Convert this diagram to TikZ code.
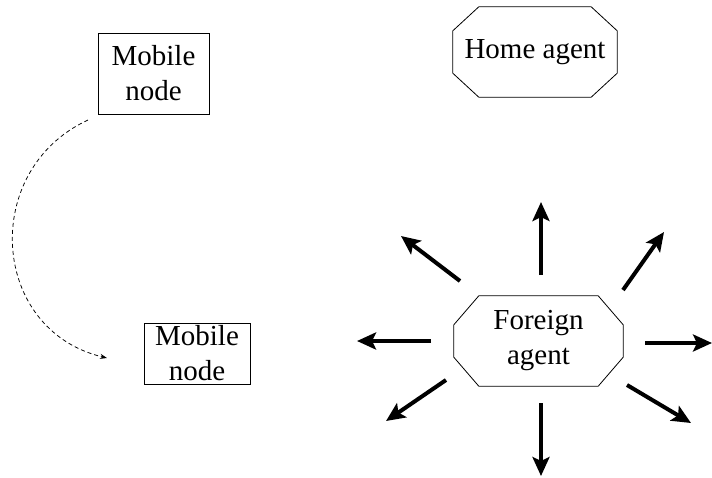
\documentclass[tikz,border=0pt]{standalone}
\usepackage{fontspec}
\setmainfont{Liberation Serif}
\usetikzlibrary{arrows.meta}
\begin{document}
\begin{tikzpicture}[x=1pt,y=-1pt,
  lbl/.style={font=\fontsize{29}{35}\selectfont, align=center, inner sep=0pt},
  boxnode/.style={lbl, draw, line width=0.8pt, rectangle},
  octline/.style={line width=0.8pt},
  bigarrow/.style={line width=4pt, -{Stealth[length=19pt,width=17pt,inset=4pt]}},
  move/.style={line width=0.75pt, dash pattern=on 4pt off 3pt, -{Stealth[length=7pt,width=5pt]}}]
\useasboundingbox (0,0) rectangle (712,477);
\fill[white] (0,0) rectangle (712,477);
\node[boxnode, minimum width=111pt, minimum height=81pt] (mn1) at (153.5,73.5) {Mobile\\node};
\node[boxnode, minimum width=106pt, minimum height=61pt] (mn2) at (197,353.5) {Mobile\\node};
\node[lbl, minimum width=164pt, minimum height=90pt] (ha) at (535,52) {Home agent};
\node[lbl, minimum width=169pt, minimum height=90pt] (fa) at (538.5,341) {Foreign\\agent};
% octagon outlines
\foreach \n/\cx/\cy in {ha/26/24, fa/25/29}{
  \draw[octline] ([xshift=\cx pt]\n.north west) -- ([xshift=-\cx pt]\n.north east)
    -- ([yshift=-\cy pt]\n.north east) -- ([yshift=\cy pt]\n.south east)
    -- ([xshift=-\cx pt]\n.south east) -- ([xshift=\cx pt]\n.south west)
    -- ([yshift=\cy pt]\n.south west) -- ([yshift=-\cy pt]\n.north west) -- cycle;
}
% dashed move
\coordinate (ms) at (88,120);
\coordinate (me) at (107,358);
\draw[move] (ms) .. controls (-20,170) and (-10,330) .. (me);
% advertisement arrows
\foreach \n/\sx/\sy/\ex/\ey in {u/541/275/541/202, ur/623/290/664/232, ul/460/281/401/236, l/431/341/357/341, r/645/343/712/343, dl/446/380/386/421, d/541/403/541/476, dr/627/385/691/423}{
  \coordinate (s\n) at (\sx,\sy);
  \coordinate (e\n) at (\ex,\ey);
  \draw[bigarrow] (s\n) -- (e\n);
}
\end{tikzpicture}
\end{document}
